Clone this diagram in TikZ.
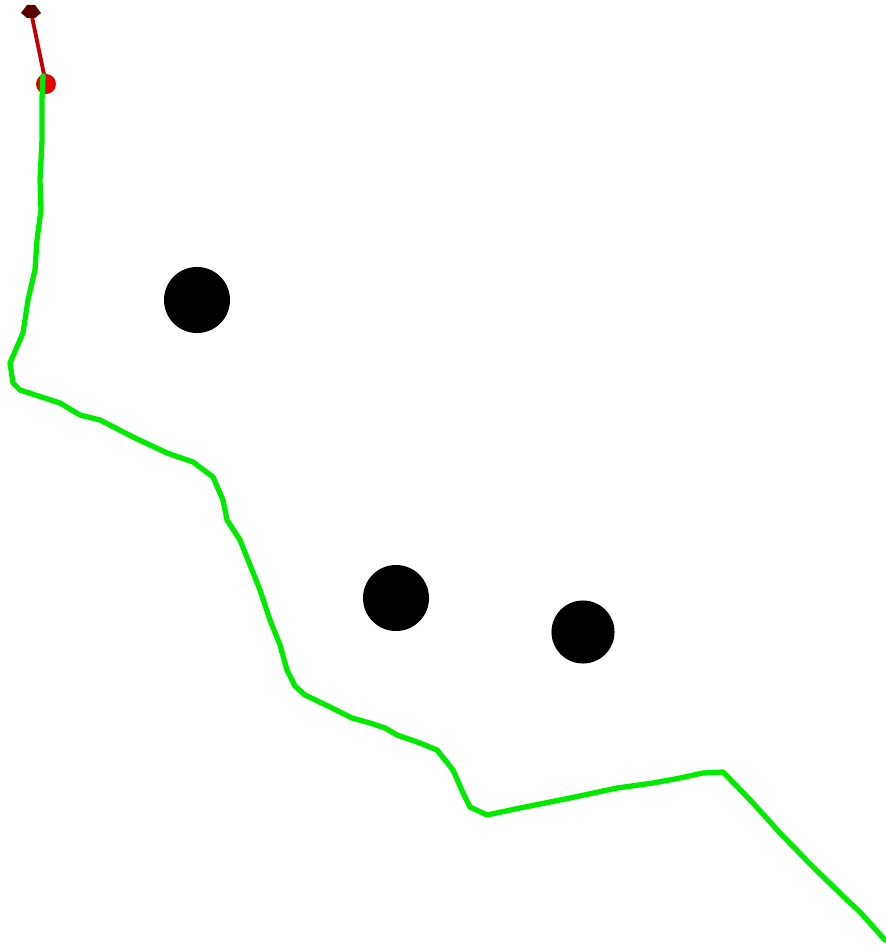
\documentclass[tikz,border=0pt]{standalone}
\usepackage{tikz}
\usetikzlibrary{positioning,calc}
\definecolor{pathgreen}{RGB}{0,235,0}
\definecolor{goalred}{RGB}{230,0,0}
\definecolor{darkmark}{RGB}{90,0,0}

\begin{document}
\begin{tikzpicture}[x=0.01cm, y=-0.01cm,
  obstacle/.style={circle, fill=black, inner sep=0pt},
  track/.style={pathgreen, line width=1.5pt, line join=round, line cap=round},
  heading/.style={goalred!85!black, line width=1.1pt}
]
\useasboundingbox (0,0) rectangle (885,949);

% obstacles
\node[obstacle, minimum size=0.66cm] (obsA) at (197,300) {};
\node[obstacle, minimum size=0.66cm] (obsB) at (396,598) {};
\node[obstacle, minimum size=0.63cm] (obsC) at (583,632) {};

% robot pose and goal
\coordinate (tip) at (31,12);
\coordinate (robot) at (46,84);
\draw[heading] (tip) -- (robot);
\fill[goalred] (robot) circle (10);
\fill[darkmark] ($(tip)+(-10,1)$) -- ($(tip)+(-4,-7)$) -- ($(tip)+(4,-7)$) -- ($(tip)+(10,1)$) -- ($(tip)+(4,6)$) -- ($(tip)+(-4,6)$) -- cycle;

% travelled path
\draw[track] (43,76) -- (42,100) -- (42,140) -- (40,180) -- (41,210) -- (37,240)
  -- (35,270) -- (28,300) -- (23,333) -- (10,363) -- (13,383) -- (20,390)
  -- (60,403) -- (80,415) -- (100,420) -- (133,437) -- (167,453) -- (193,462)
  -- (213,477) -- (223,500) -- (227,520) -- (240,540) -- (250,565) -- (260,590)
  -- (270,620) -- (280,645) -- (287,670) -- (295,686) -- (305,695) -- (330,707)
  -- (352,718) -- (370,723) -- (385,728) -- (397,735) -- (420,743) -- (437,750)
  -- (453,770) -- (463,793) -- (470,807) -- (487,815) -- (520,808) -- (570,798)
  -- (617,788) -- (653,783) -- (680,778) -- (703,773) -- (723,772) -- (753,803)
  -- (780,833) -- (813,867) -- (845,898) -- (860,912) -- (885,940);
\end{tikzpicture}
\end{document}
